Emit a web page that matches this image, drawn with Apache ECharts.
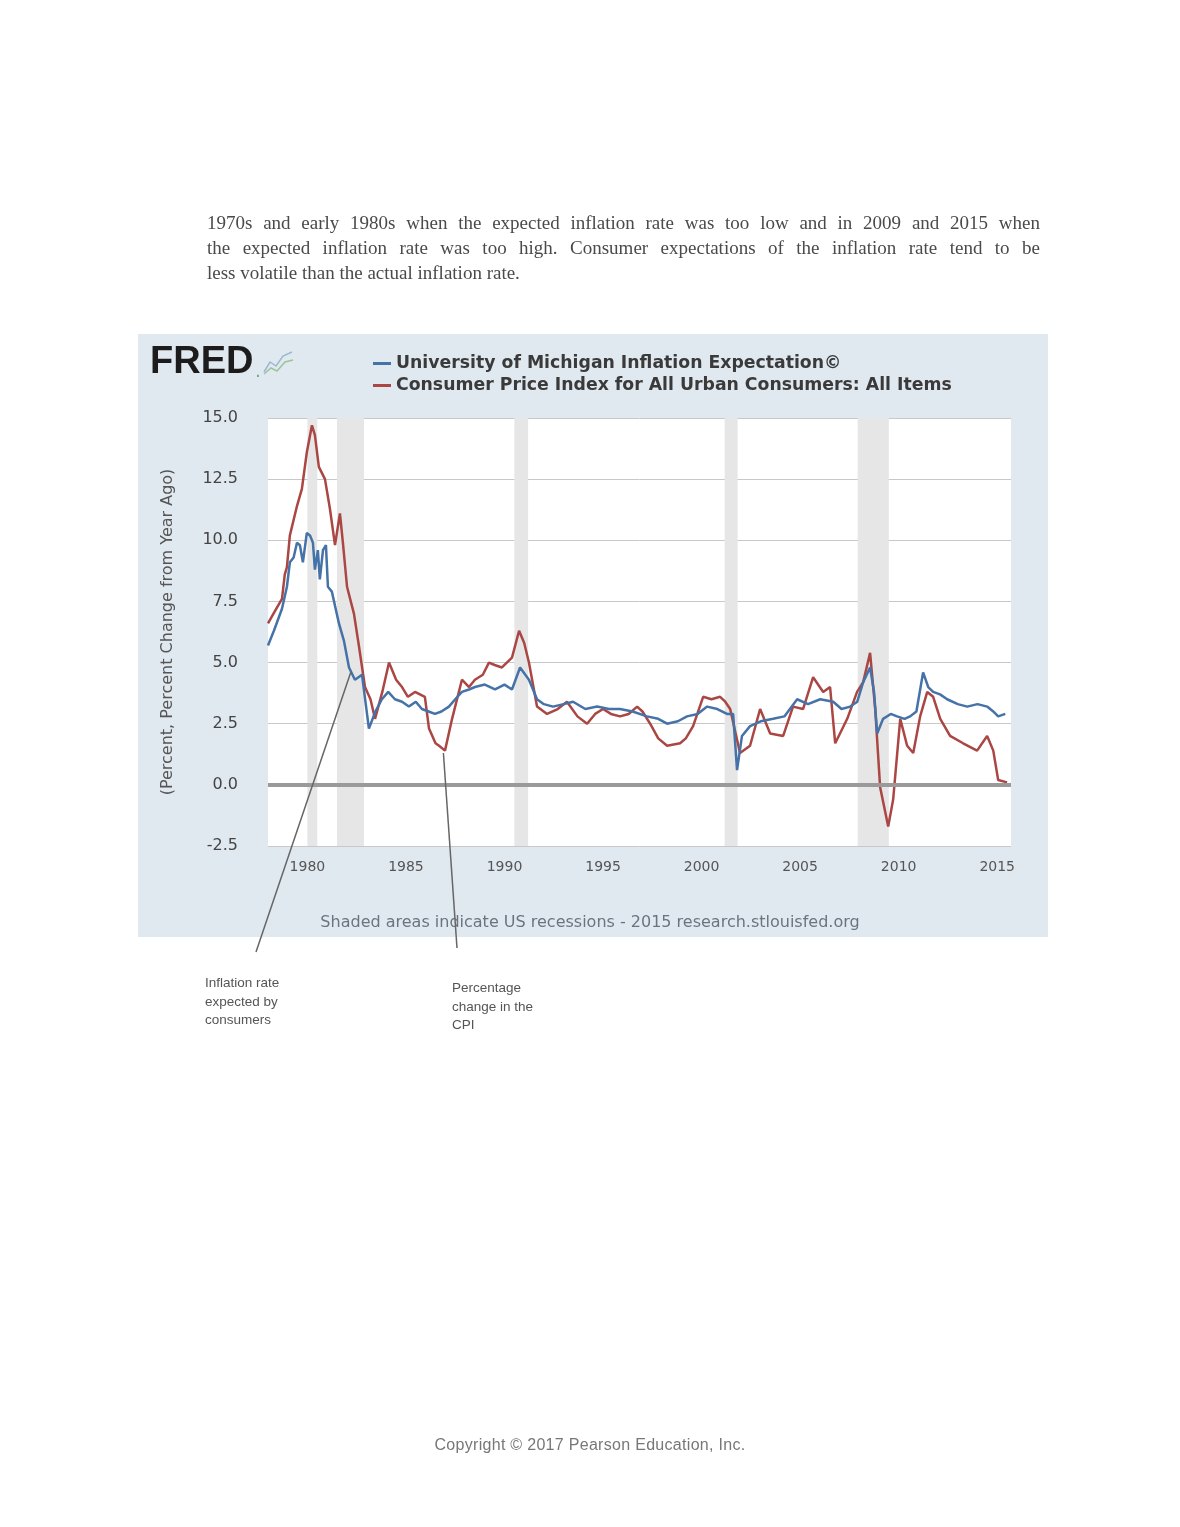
<!DOCTYPE html>
<html>
<head>
<meta charset="utf-8">
<script src="https://cdn.jsdelivr.net/npm/echarts@6/dist/echarts.min.js"></script>
<style>
  html, body { margin: 0; padding: 0; background: #fff; }
  #page { position: relative; width: 1180px; height: 1527px; overflow: hidden; }
  #chart { position: absolute; left: 0; top: 0; width: 1180px; height: 1527px; }
  .para { position: absolute; left: 207px; width: 833px; font-family: "Liberation Serif", serif; font-size: 19px; color: #4a4a4a; text-align: justify; text-align-last: justify; white-space: nowrap; line-height: 22px; }
  .para.last { text-align-last: left; }
  .note { position: absolute; font-family: "Liberation Sans", Arial, sans-serif; font-size: 13.5px; line-height: 18.5px; color: #555; }
  .copy { position: absolute; left: 0; width: 1180px; top: 1436px; text-align: center; font-family: "Liberation Sans", Arial, sans-serif; font-size: 16px; color: #777; letter-spacing: 0.3px; }
</style>
</head>
<body>
<div id="page">
  <div id="chart"></div>
  <div class="para" style="top:212px">1970s and early 1980s when the expected inflation rate was too low and in 2009 and 2015 when</div>
  <div class="para" style="top:237px">the expected inflation rate was too high. Consumer expectations of the inflation rate tend to be</div>
  <div class="para last" style="top:262px">less volatile than the actual inflation rate.</div>
  <div class="note" style="left:205px;top:974px">Inflation rate<br>expected by<br>consumers</div>
  <div class="note" style="left:452px;top:979px">Percentage<br>change in the<br>CPI</div>
  <div class="copy">Copyright © 2017 Pearson Education, Inc.</div>
</div>
<script>
// ---- data (decimal years, percent) ----
const michDates = [1978.0,1978.3,1978.71,1978.96,1979.11,1979.3,1979.47,1979.62,1979.77,1979.97,1980.13,1980.28,1980.38,1980.53,1980.63,1980.79,1980.94,1981.04,1981.24,1981.6,1981.85,1982.11,1982.41,1982.77,1983.12,1983.45,1983.78,1984.1,1984.44,1984.8,1985.15,1985.5,1985.81,1986.15,1986.47,1986.8,1987.18,1987.5,1987.84,1988.2,1988.5,1989.0,1989.52,1990.0,1990.38,1990.79,1991.24,1991.65,1992.0,1992.46,1993.0,1993.48,1994.1,1994.7,1995.3,1995.86,1996.5,1997.23,1997.8,1998.25,1998.8,1999.26,1999.8,2000.28,2000.8,2001.29,2001.6,2001.8,2002.05,2002.46,2003.0,2003.63,2004.2,2004.85,2005.4,2006.02,2006.68,2007.1,2007.54,2007.9,2008.2,2008.55,2008.75,2008.91,2009.21,2009.6,2009.92,2010.3,2010.58,2010.9,2011.24,2011.5,2011.75,2012.1,2012.46,2013.0,2013.48,2014.0,2014.49,2014.8,2015.05,2015.41];
const michPct   = [5.7,6.3,7.2,8.1,9.1,9.3,9.9,9.8,9.1,10.3,10.2,9.9,8.8,9.6,8.4,9.6,9.8,8.1,7.9,6.6,5.9,4.8,4.3,4.5,2.3,3.0,3.5,3.8,3.5,3.4,3.2,3.4,3.1,3.0,2.9,3.0,3.2,3.5,3.8,3.9,4.0,4.1,3.9,4.1,3.9,4.8,4.3,3.5,3.3,3.2,3.3,3.4,3.1,3.2,3.1,3.1,3.0,2.8,2.7,2.5,2.6,2.8,2.9,3.2,3.1,2.9,2.9,0.6,2.0,2.4,2.6,2.7,2.8,3.5,3.3,3.5,3.4,3.1,3.2,3.4,4.2,4.8,3.8,2.1,2.7,2.9,2.8,2.7,2.8,3.0,4.6,4.0,3.8,3.7,3.5,3.3,3.2,3.3,3.2,3.0,2.8,2.9];

const cpiDates = [1978.0,1978.35,1978.71,1978.85,1978.96,1979.11,1979.47,1979.72,1979.97,1980.23,1980.38,1980.58,1980.89,1981.14,1981.4,1981.65,1981.8,1982.01,1982.36,1982.61,1982.92,1983.2,1983.43,1983.8,1984.14,1984.5,1984.8,1985.1,1985.46,1985.96,1986.17,1986.5,1986.68,1986.98,1987.34,1987.84,1988.2,1988.5,1988.9,1989.21,1989.5,1989.87,1990.38,1990.74,1991.0,1991.24,1991.65,1992.16,1992.7,1993.17,1993.7,1994.19,1994.6,1995.0,1995.4,1995.86,1996.3,1996.73,1997.0,1997.39,1997.8,1998.25,1998.91,1999.2,1999.57,2000.08,2000.5,2000.94,2001.2,2001.45,2001.95,2002.46,2002.97,2003.48,2004.14,2004.64,2005.15,2005.66,2006.17,2006.52,2006.78,2007.39,2007.89,2008.2,2008.55,2008.81,2009.06,2009.47,2009.72,2010.08,2010.43,2010.74,2011.09,2011.45,2011.75,2012.11,2012.61,2013.27,2013.98,2014.49,2014.8,2015.05,2015.5];
const cpiPct   = [6.6,7.1,7.6,8.6,8.9,10.2,11.4,12.1,13.6,14.7,14.3,13.0,12.5,11.3,9.8,11.1,9.9,8.1,7.0,5.7,4.0,3.5,2.7,3.8,5.0,4.3,4.0,3.6,3.8,3.6,2.3,1.7,1.6,1.4,2.7,4.3,4.0,4.3,4.5,5.0,4.9,4.8,5.2,6.3,5.8,5.0,3.2,2.9,3.1,3.4,2.8,2.5,2.9,3.1,2.9,2.8,2.9,3.2,3.0,2.5,1.9,1.6,1.7,1.9,2.4,3.6,3.5,3.6,3.4,3.1,1.3,1.6,3.1,2.1,2.0,3.2,3.1,4.4,3.8,4.0,1.7,2.7,3.8,4.2,5.4,3.1,-0.1,-1.7,-0.6,2.7,1.6,1.3,2.8,3.8,3.6,2.7,2.0,1.7,1.4,2.0,1.4,0.2,0.1];

const recessions = [[1980.0, 1980.5], [1981.5, 1982.87], [1990.5, 1991.2], [2001.17, 2001.83], [2007.92, 2009.5]];
const xTicks = [1980, 1985, 1990, 1995, 2000, 2005, 2010, 2015];
const yTicks = [-2.5, 0, 2.5, 5, 7.5, 10, 12.5, 15];

const seriesNames = ['University of Michigan Inflation Expectation©', 'Consumer Price Index for All Urban Consumers: All Items'];

function pairs(xs, ys) { return xs.map((x, i) => [x, ys[i]]); }

const chart = echarts.init(document.getElementById('chart'), null, { renderer: 'canvas' });
const FONT = '"DejaVu Sans", Verdana, sans-serif';

const panelGraphics = [
  { type: 'rect', id: 'panel', z: -10, silent: true, shape: { x: 138, y: 334, width: 910, height: 603 }, style: { fill: '#e1e9f0' } },
  { type: 'text', id: 'fred', left: 150, top: 344, silent: true, style: { text: 'FRED', font: 'bold 38px "Liberation Sans", Arial, sans-serif', fill: '#1c1c1c', letterSpacing: -1 } },
  { type: 'text', id: 'fredDot', left: 256, top: 366, silent: true, style: { text: '.', font: 'bold 14px "Liberation Sans", Arial', fill: '#7a8' } },
  { type: 'polyline', id: 'ic1', silent: true, shape: { points: [[264, 372], [270, 362], [276, 366], [283, 356], [292, 352]] }, style: { stroke: '#9bb8cf', lineWidth: 1.5, fill: null } },
  { type: 'polyline', id: 'ic2', silent: true, shape: { points: [[264, 374], [271, 368], [277, 371], [285, 362], [293, 360]] }, style: { stroke: '#9cc39c', lineWidth: 1.5, fill: null } },
  { type: 'text', id: 'footer', left: 'center', top: 915, silent: true, style: { text: 'Shaded areas indicate US recessions - 2015 research.stlouisfed.org', font: '16px ' + FONT, fill: '#6a7480' }, x: -10 }
];

chart.setOption({
  animation: false,
  backgroundColor: 'transparent',
  textStyle: { fontFamily: FONT },
  legend: {
    data: seriesNames,
    orient: 'vertical',
    left: 368,
    top: 350,
    itemGap: 5,
    itemWidth: 18,
    itemHeight: 3,
    icon: 'rect',
    textStyle: { fontSize: 17.3, fontWeight: 'bold', color: '#3a3a3a', fontFamily: FONT },
    selectedMode: false
  },
  grid: { left: 268, top: 418, width: 743, height: 428, show: true, backgroundColor: '#ffffff', borderWidth: 0, containLabel: false },
  xAxis: {
    type: 'value',
    min: 1978,
    max: 2015.7,
    splitLine: { show: false },
    axisLine: { show: false },
    axisTick: { show: false },
    axisLabel: { customValues: xTicks, formatter: v => String(Math.round(v)), color: '#555', fontSize: 14, margin: 14 }
  },
  yAxis: {
    type: 'value',
    min: -2.5,
    max: 15,
    interval: 2.5,
    name: '(Percent, Percent Change from Year Ago)',
    nameLocation: 'middle',
    nameGap: 92,
    nameRotate: 90,
    nameTextStyle: { fontSize: 16, color: '#555' },
    axisLine: { show: false },
    axisTick: { show: false },
    axisLabel: { formatter: v => v.toFixed(1), color: '#444', fontSize: 16, margin: 30 },
    splitLine: { show: true, lineStyle: { color: '#c8c8c8', width: 1 } }
  },
  series: [
    {
      name: 'recessions', type: 'line', data: [], z: 1, silent: true,
      markArea: { silent: true, itemStyle: { color: '#e6e6e6' }, data: recessions.map(r => [{ xAxis: r[0] }, { xAxis: r[1] }]) },
      markLine: { silent: true, symbol: 'none', label: { show: false }, lineStyle: { color: '#9a9a9a', width: 4, type: 'solid' }, data: [{ yAxis: 0 }] }
    },
    {
      name: seriesNames[0], type: 'line', z: 3, showSymbol: false, symbol: 'none',
      data: pairs(michDates, michPct),
      lineStyle: { color: '#4572a7', width: 2.5 }, itemStyle: { color: '#4572a7' }
    },
    {
      name: seriesNames[1], type: 'line', z: 2, showSymbol: false, symbol: 'none',
      data: pairs(cpiDates, cpiPct),
      lineStyle: { color: '#aa4643', width: 2.5 }, itemStyle: { color: '#aa4643' }
    }
  ],
  graphic: panelGraphics
});

// annotation leader lines anchored to data points
const p1 = chart.convertToPixel({ gridIndex: 0 }, [1982.2, 4.6]);
const p2 = chart.convertToPixel({ gridIndex: 0 }, [1986.9, 1.3]);
chart.setOption({
  graphic: panelGraphics.concat([
    { type: 'line', id: 'lead1', z: 100, silent: true, shape: { x1: p1[0], y1: p1[1], x2: 256, y2: 952 }, style: { stroke: '#666', lineWidth: 1.5 } },
    { type: 'line', id: 'lead2', z: 100, silent: true, shape: { x1: p2[0], y1: p2[1], x2: 457, y2: 948 }, style: { stroke: '#666', lineWidth: 1.5 } }
  ])
});
</script>
</body>
</html>
